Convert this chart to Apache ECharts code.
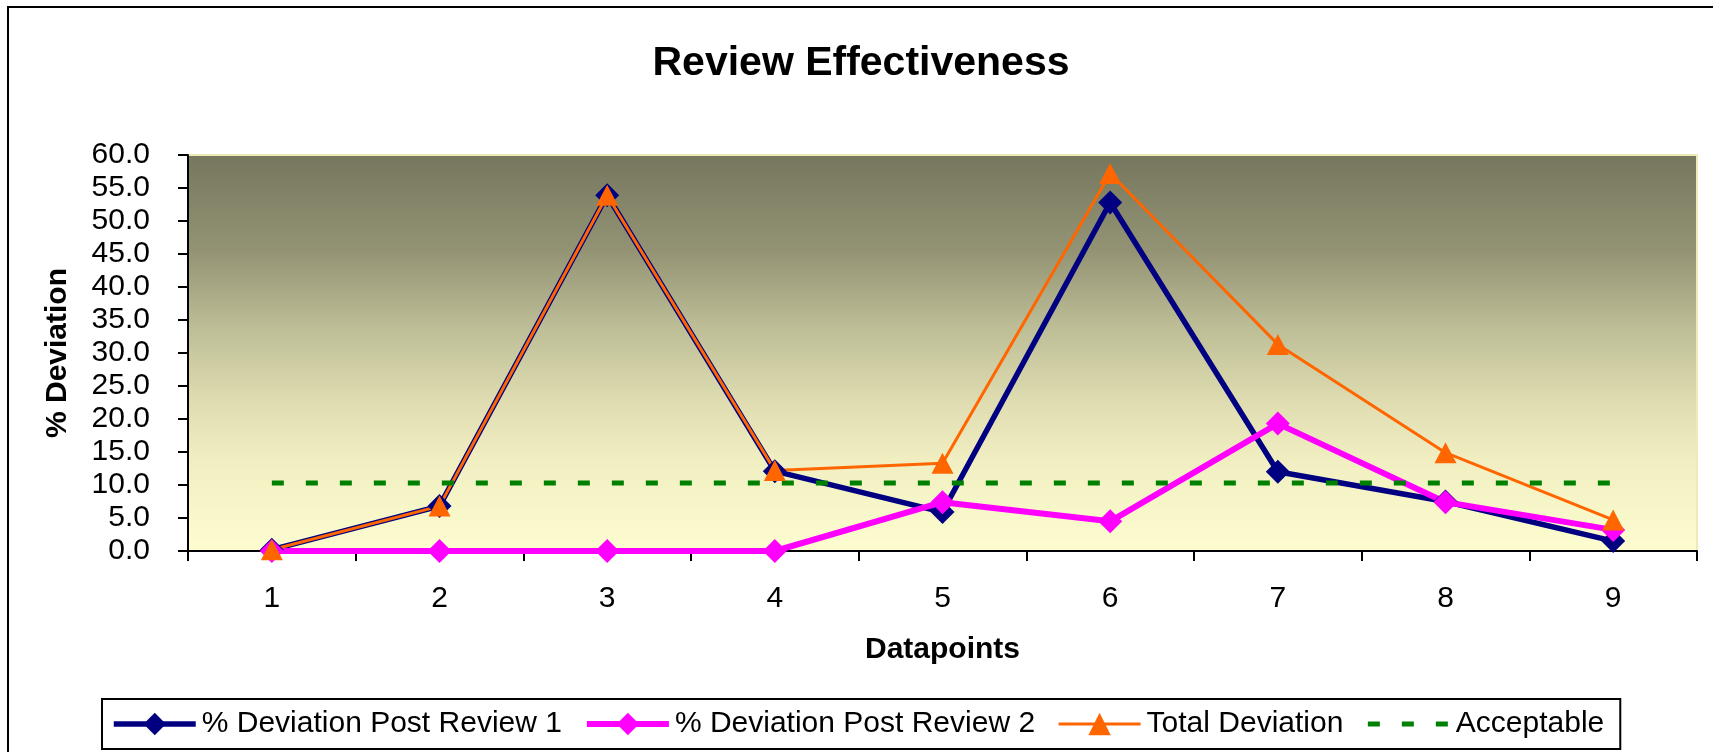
<!DOCTYPE html>
<html>
<head>
<meta charset="utf-8">
<script src="https://cdn.jsdelivr.net/npm/echarts@6/dist/echarts.min.js"></script>
<style>
  html, body { margin: 0; padding: 0; background: #ffffff; }
  #chart { width: 1713px; height: 752px; }
</style>
</head>
<body>
<div id="chart"></div>
<script>
// ---- data ----
const categories = ['1', '2', '3', '4', '5', '6', '7', '8', '9'];
const postReview1 = [0.2, 6.8, 53.9, 12.1, 5.9, 52.8, 12.0, 7.5, 1.5];
const postReview2 = [0.0, 0.0, 0.0, 0.0, 7.4, 4.5, 19.3, 7.4, 3.2];
const totalDeviation = [0.2, 6.8, 53.9, 12.2, 13.3, 57.2, 31.3, 14.9, 4.7];
const acceptable = [10.3, 10.3, 10.3, 10.3, 10.3, 10.3, 10.3, 10.3, 10.3];
const yMin = 0, yMax = 60, yStep = 5;
const seriesNames = ['% Deviation Post Review 1', '% Deviation Post Review 2', 'Total Deviation', 'Acceptable'];

const FONT = '"Liberation Sans", Arial, sans-serif';
const chart = echarts.init(document.getElementById('chart'), null, { renderer: 'canvas' });

chart.setOption({
  animation: false,
  backgroundColor: '#ffffff',
  textStyle: { fontFamily: FONT },
  title: {
    text: 'Review Effectiveness',
    left: 861,
    textAlign: 'center',
    top: 43,
    padding: 0,
    textStyle: { fontFamily: FONT, fontSize: 41, fontWeight: 'bold', color: '#000' }
  },
  graphic: [{
    type: 'rect',
    silent: true,
    shape: { x: 8, y: 7, width: 1800, height: 900 },
    style: { fill: 'none', stroke: '#000', lineWidth: 2 }
  }],
  legend: {
    left: 102,
    top: 699,
    orient: 'horizontal',
    padding: [10, 16, 10, 9],
    itemWidth: 82,
    itemHeight: 28,
    itemGap: 22,
    backgroundColor: '#ffffff',
    borderColor: '#000',
    borderWidth: 2,
    borderRadius: 0,
    textStyle: { fontFamily: FONT, fontSize: 30, color: '#000', padding: [0, 0, 0, 1] },
    data: [
      { name: seriesNames[0], lineStyle: { width: 5.5 } },
      { name: seriesNames[1], lineStyle: { width: 6 } },
      { name: seriesNames[2], lineStyle: { width: 3 } },
      { name: seriesNames[3], lineStyle: { width: 5 }, itemStyle: { opacity: 0 } }
    ]
  },
  grid: {
    left: 188, right: 16, top: 155, bottom: 201,
    show: true,
    borderColor: '#ecebb6',
    borderWidth: 2,
    outerBoundsMode: 'none',
    backgroundColor: {
      type: 'linear', x: 0, y: 0, x2: 0, y2: 1,
      colorStops: [
        { offset: 0, color: '#76765e' },
        { offset: 0.24, color: '#939374' },
        { offset: 0.44, color: '#bebe97' },
        { offset: 0.62, color: '#dedcb0' },
        { offset: 0.77, color: '#f1efc2' },
        { offset: 1, color: '#fdfdcf' }
      ]
    }
  },
  xAxis: {
    type: 'category',
    data: categories,
    boundaryGap: true,
    name: 'Datapoints',
    nameLocation: 'middle',
    nameGap: 84,
    nameTextStyle: { fontFamily: FONT, fontSize: 30, fontWeight: 'bold', color: '#000' },
    axisLine: { show: true, lineStyle: { color: '#000', width: 2 } },
    axisTick: { show: true, inside: false, length: 10, lineStyle: { color: '#000', width: 2 } },
    axisLabel: { margin: 33, fontFamily: FONT, fontSize: 30, color: '#000' },
    splitLine: { show: false }
  },
  yAxis: {
    type: 'value',
    min: yMin, max: yMax, interval: yStep,
    name: '% Deviation',
    nameLocation: 'middle',
    nameGap: 115,
    nameTextStyle: { fontFamily: FONT, fontSize: 30, fontWeight: 'bold', color: '#000' },
    axisLine: { show: true, lineStyle: { color: '#000', width: 2 } },
    axisTick: { show: true, inside: false, length: 10, lineStyle: { color: '#000', width: 2 } },
    axisLabel: { margin: 38, fontFamily: FONT, fontSize: 30, color: '#000', formatter: v => v.toFixed(1) },
    splitLine: { show: false }
  },
  series: [
    {
      name: seriesNames[0], type: 'line', data: postReview1,
      symbol: 'diamond', symbolSize: 24, showSymbol: true,
      lineStyle: { color: '#000080', width: 5.5 },
      itemStyle: { color: '#000080', borderWidth: 0 },
      emphasis: { disabled: true }
    },
    {
      name: seriesNames[1], type: 'line', data: postReview2,
      symbol: 'diamond', symbolSize: 24,
      lineStyle: { color: '#ff00ff', width: 6 },
      itemStyle: { color: '#ff00ff', borderWidth: 0 },
      emphasis: { disabled: true }
    },
    {
      name: seriesNames[2], type: 'line', data: totalDeviation,
      symbol: 'triangle', symbolSize: [22, 21],
      lineStyle: { color: '#ff6600', width: 3 },
      itemStyle: { color: '#ff6600', borderWidth: 0 },
      emphasis: { disabled: true }
    },
    {
      name: seriesNames[3], type: 'line', data: acceptable,
      symbol: 'none',
      lineStyle: { color: '#008000', width: 5, type: [12, 22] },
      itemStyle: { color: '#008000' },
      emphasis: { disabled: true }
    }
  ]
});
</script>
</body>
</html>
